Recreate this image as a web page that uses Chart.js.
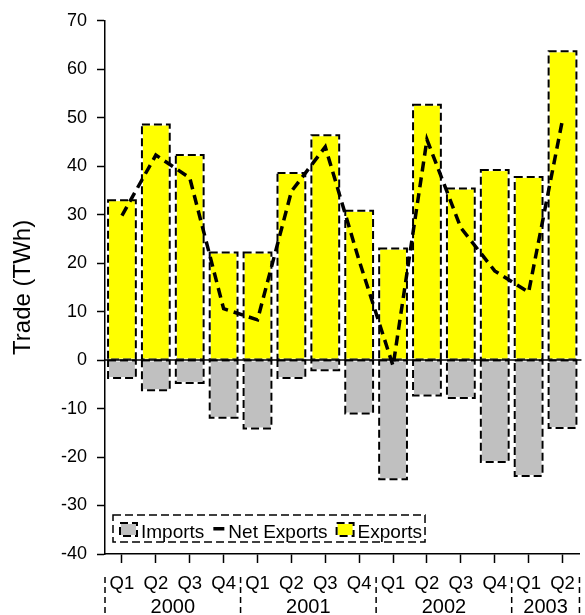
<!DOCTYPE html>
<html>
<head>
<meta charset="utf-8">
<script src="https://cdn.jsdelivr.net/npm/chart.js@4/dist/chart.umd.min.js"></script>
<style>
  html, body { margin: 0; padding: 0; background: #ffffff; }
  #wrap { width: 585px; height: 615px; position: relative; }
</style>
</head>
<body>
<div id="wrap"><canvas id="chart" width="585" height="615"></canvas></div>
<script>
// Quarterly electricity trade, 2000 Q1 – 2003 Q2 (TWh)
const quarters = ['Q1', 'Q2', 'Q3', 'Q4', 'Q1', 'Q2', 'Q3', 'Q4', 'Q1', 'Q2', 'Q3', 'Q4', 'Q1', 'Q2'];
const years = ['2000', '2001', '2002', '2003'];
const quartersPerYear = [4, 4, 4, 2];

const imports = [-3.7, -6.2, -4.7, -11.9, -14.1, -3.7, -2.1, -11.0, -24.6, -7.3, -7.8, -21.0, -23.9, -14.0];
const exportsTWh = [33.0, 48.6, 42.3, 22.2, 22.2, 38.6, 46.4, 30.8, 23.0, 52.7, 35.4, 39.2, 37.8, 63.7];
const netExports = [29.8, 42.3, 37.6, 10.6, 8.3, 34.8, 44.0, 20.5, -1.2, 45.5, 27.3, 18.4, 14.0, 49.6];

const yTicks = { min: -40, max: 70, step: 10 };

const FONT = '"Liberation Sans", Arial, Helvetica, sans-serif';

// Dashed outlines for bars (black dashes over a white stroke)
function dashedRect(ctx, x, y, w, h) {
  ctx.save();
  ctx.lineWidth = 2;
  ctx.strokeStyle = '#ffffff';
  ctx.setLineDash([]);
  ctx.strokeRect(x, y, w, h);
  ctx.strokeStyle = '#000000';
  ctx.setLineDash([8, 4]);
  ctx.strokeRect(x, y, w, h);
  ctx.restore();
}

const decorations = {
  id: 'decorations',
  afterDatasetDraw(chart, args) {
    const ds = chart.data.datasets[args.index];
    if (ds.type === 'line') return;
    args.meta.data.forEach(bar => {
      const p = bar.getProps(['x', 'y', 'base', 'width'], true);
      const top = Math.min(p.y, p.base), bottom = Math.max(p.y, p.base);
      dashedRect(chart.ctx, p.x - p.width / 2, top, p.width, bottom - top);
    });
  },
  beforeDatasetDraw(chart, args) {
    const ds = chart.data.datasets[args.index];
    if (ds.type !== 'line') return;
    // zero reference line
    const ctx = chart.ctx, y0 = chart.scales.y.getPixelForValue(0);
    ctx.save();
    ctx.strokeStyle = '#000';
    ctx.lineWidth = 1.5;
    ctx.beginPath();
    ctx.moveTo(chart.chartArea.left, y0);
    ctx.lineTo(chart.chartArea.right + 2, y0);
    ctx.stroke();
    ctx.restore();
  },
  afterDraw(chart) {
    const ctx = chart.ctx, xs = chart.scales.x, area = chart.chartArea;
    // year groups under the quarter labels
    ctx.save();
    ctx.strokeStyle = '#000';
    ctx.lineWidth = 1.5;
    ctx.setLineDash([6, 4]);
    ctx.fillStyle = '#000';
    ctx.font = '20px ' + FONT;
    ctx.textAlign = 'center';
    ctx.textBaseline = 'alphabetic';
    const half = (xs.getPixelForValue(1) - xs.getPixelForValue(0)) / 2;
    let start = 0;
    const edges = [xs.getPixelForValue(0) - half];
    years.forEach((yr, i) => {
      const end = start + quartersPerYear[i] - 1;
      const left = xs.getPixelForValue(start) - half;
      const right = xs.getPixelForValue(end) + half;
      edges.push(right);
      ctx.fillText(yr, (left + right) / 2, 613);
      start = end + 1;
    });
    edges.forEach(x => {
      ctx.beginPath();
      ctx.moveTo(x, 577);
      ctx.lineTo(x, 615);
      ctx.stroke();
    });
    ctx.restore();

    // legend
    ctx.save();
    ctx.font = '19px ' + FONT;
    ctx.textBaseline = 'alphabetic';
    ctx.textAlign = 'left';
    const items = [chart.data.datasets[0], chart.data.datasets[2], chart.data.datasets[1]];
    let x = area.left + 15;
    const baseY = area.bottom - 16;
    const boxLeft = area.left + 8, boxTop = area.bottom - 39;
    items.forEach((ds, i) => {
      if (ds.type === 'line') {
        ctx.fillStyle = '#000';
        ctx.fillRect(x, baseY - 11, 11, 3.5);
        x += 15;
      } else {
        ctx.fillStyle = ds.backgroundColor;
        ctx.fillRect(x, baseY - 15, 17, 13);
        dashedRect(ctx, x, baseY - 15, 17, 13);
        x += 21;
      }
      ctx.fillStyle = '#000';
      ctx.fillText(ds.label, x, baseY);
      x += ctx.measureText(ds.label).width + 9;
    });
    const boxRight = x - 6;
    ctx.strokeStyle = '#000';
    ctx.lineWidth = 1.5;
    ctx.setLineDash([8, 4]);
    ctx.strokeRect(boxLeft, boxTop, boxRight - boxLeft, 27);
    ctx.restore();
  }
};

new Chart(document.getElementById('chart'), {
  type: 'bar',
  data: {
    labels: quarters,
    datasets: [
      { label: 'Imports', data: imports, backgroundColor: '#c0c0c0', borderWidth: 0,
        stack: 'trade', order: 1, categoryPercentage: 1, barPercentage: 0.82 },
      { label: 'Exports', data: exportsTWh, backgroundColor: '#ffff00', borderWidth: 0,
        stack: 'trade', order: 1, categoryPercentage: 1, barPercentage: 0.82 },
      { type: 'line', label: 'Net Exports', data: netExports, stack: 'net', order: 0,
        borderColor: '#000', borderWidth: 3.5, borderDash: [10, 6], pointRadius: 0,
        tension: 0, fill: false }
    ]
  },
  options: {
    responsive: false,
    animation: false,
    devicePixelRatio: 1,
    layout: { padding: { top: 19, right: 4, left: 0, bottom: 0 } },
    plugins: { legend: { display: false }, tooltip: { enabled: false } },
    scales: {
      x: {
        stacked: true,
        offset: true,
        grid: { display: true, offset: false, drawOnChartArea: false, drawTicks: true,
                tickLength: 9, tickColor: '#000', tickWidth: 1.5 },
        border: { display: true, color: '#000', width: 1.5, dash: [8, 4] },
        ticks: { color: '#000', font: { family: FONT, size: 18.5 }, padding: 10, maxRotation: 0, autoSkip: false },
        afterFit(scale) { scale.height = 61; }
      },
      y: {
        stacked: true,
        min: yTicks.min, max: yTicks.max,
        grid: { display: true, drawOnChartArea: false, drawTicks: true,
                tickLength: 8, tickColor: '#000', tickWidth: 1.5 },
        border: { display: true, color: '#000', width: 1.5, dash: [9, 5] },
        ticks: { stepSize: yTicks.step, color: '#000', font: { family: FONT, size: 18 }, padding: 10 },
        title: { display: true, text: 'Trade (TWh)', color: '#000', font: { family: FONT, size: 24 }, padding: { top: 9 } },
        afterFit(scale) { scale.width = 105; }
      }
    }
  },
  plugins: [decorations]
});
</script>
</body>
</html>
